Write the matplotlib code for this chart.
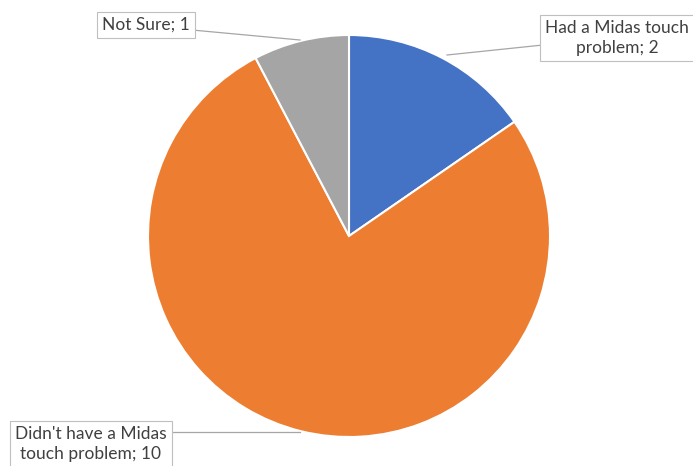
import matplotlib.pyplot as plt
import numpy as np

labels = ["Had a Midas touch\nproblem; 2", "Didn't have a Midas\ntouch problem; 10", "Not Sure; 1"]
values = [2, 10, 1]
colors = ["#4472C4", "#ED7D31", "#A5A5A5"]

W, H = 693, 466
fig = plt.figure(figsize=(W / 100, H / 100), dpi=100)
ax = fig.add_axes([0, 0, 1, 1])

cx, cy, r = 349, H - 236, 201
wedges, _ = ax.pie(values, colors=colors, startangle=90, counterclock=False,
                   center=(cx, cy), radius=r, frame=True,
                   wedgeprops=dict(edgecolor="white", linewidth=1.5))
ax.set_xlim(0, W)
ax.set_ylim(0, H)
ax.axis("off")

# label position (text centre) and leader end on the pie
label_pos = [(617, H - 38), (91, H - 444), (146, H - 25)]
line_start = [(543, H - 45), (171, H - 432), (192, H - 30)]
line_end = [(447, H - 55), (300, H - 432), (300, H - 40)]

box = dict(boxstyle="square,pad=0.3", fc="white", ec="#BFBFBF", lw=0.8)
for lab, p, s, e in zip(labels, label_pos, line_start, line_end):
    ax.plot([s[0], e[0]], [s[1], e[1]], color="#A6A6A6", lw=0.9, zorder=3)
    ax.text(p[0], p[1], lab, ha="center", va="center", fontsize=12.5,
            family="Lato", color="#404040", bbox=box, linespacing=1.3, zorder=4)

fig.savefig("out.png", dpi=100, facecolor="w")
